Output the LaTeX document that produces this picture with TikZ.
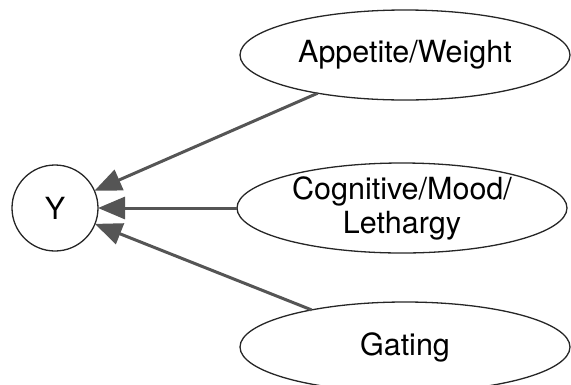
\documentclass[tikz,border=0pt]{standalone}
\usepackage{fontspec}
\setmainfont{TeX Gyre Heros}
\usetikzlibrary{shapes.geometric,arrows.meta}
\definecolor{arrowgray}{RGB}{85,85,85}
\begin{document}
\begin{tikzpicture}[x=1pt,y=-1pt,
  ell/.style={draw=black!85, line width=1.3pt, ellipse, inner sep=0pt, outer sep=0pt,
    minimum width=330pt, minimum height=90pt},
  circ/.style={draw=black!85, line width=1.3pt, circle, inner sep=0pt, outer sep=0pt,
    minimum size=86pt, font=\fontsize{30.5}{34}\selectfont},
  lbl/.style={inner sep=0pt, align=center, font=\fontsize{30.5}{34}\selectfont},
  arr/.style={draw=arrowgray, line width=3pt, -{Triangle[length=27pt,width=22pt]}}
]
\clip (0,0) rectangle (571,384);
\useasboundingbox (0,0) rectangle (571,384);
\node[circ] (y) at (55,208) {Y};
\node[ell, label={[lbl]center:Appetite/Weight}] (a) at (405,55) {};
\node[ell, label={[lbl]center:Cognitive/Mood/\\Lethargy}] (c) at (402,208) {};
\node[ell, label={[lbl]center:Gating}] (g) at (405,347) {};
\draw[arr] (a) -- (y);
\draw[arr] (c) -- (y);
\draw[arr] (g) -- (y);
\end{tikzpicture}
\end{document}
